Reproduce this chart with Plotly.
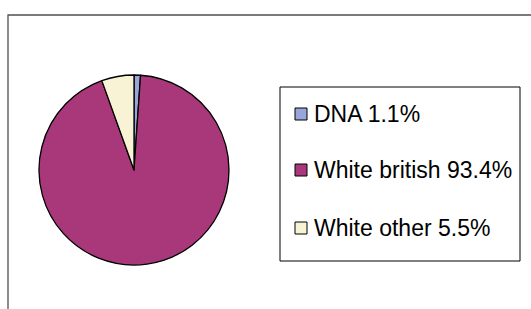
import plotly.graph_objects as go

labels = ["DNA", "White british", "White other"]
values = [1.1, 93.4, 5.5]
colors = ["#99A6DA", "#A8387A", "#F8F3D4"]

W, H = 531, 309

def px(x):
    return x / W

def py(y):
    return 1 - y / H

fig = go.Figure()
fig.add_trace(go.Pie(
    labels=labels,
    values=values,
    sort=False,
    direction="clockwise",
    rotation=0,
    marker=dict(colors=colors, line=dict(color="#000000", width=1.3)),
    textinfo="none",
    hoverinfo="label+percent",
    domain=dict(x=[px(39), px(229)], y=[py(266), py(74)]),
    showlegend=False,
))

shapes = [
    # outer chart frame
    dict(type="rect", xref="paper", yref="paper",
         x0=px(8), x1=px(540), y0=py(320), y1=py(15),
         line=dict(color="#505050", width=1.3), fillcolor="rgba(0,0,0,0)"),
    # legend box
    dict(type="rect", xref="paper", yref="paper",
         x0=px(280), x1=px(520), y0=py(261), y1=py(87),
         line=dict(color="#000000", width=1), fillcolor="rgba(0,0,0,0)"),
]
annotations = []
row_y = [114, 170, 228]
for lab, val, col, yc in zip(labels, values, colors, row_y):
    shapes.append(dict(type="rect", xref="paper", yref="paper",
                       x0=px(295), x1=px(307), y0=py(yc + 6), y1=py(yc - 6),
                       line=dict(color="#000000", width=1), fillcolor=col))
    annotations.append(dict(xref="paper", yref="paper", x=px(312), y=py(yc),
                            xanchor="left", yanchor="middle", showarrow=False,
                            text=f"{lab} {val}%",
                            font=dict(family="Liberation Sans, Arial", size=23, color="#000000")))

fig.update_layout(
    width=W, height=H,
    margin=dict(l=0, r=0, t=0, b=0),
    paper_bgcolor="white", plot_bgcolor="white",
    shapes=shapes, annotations=annotations,
)
fig.write_html("out.html", config={"displayModeBar": False},
               post_script="document.body.style.margin='0';")
